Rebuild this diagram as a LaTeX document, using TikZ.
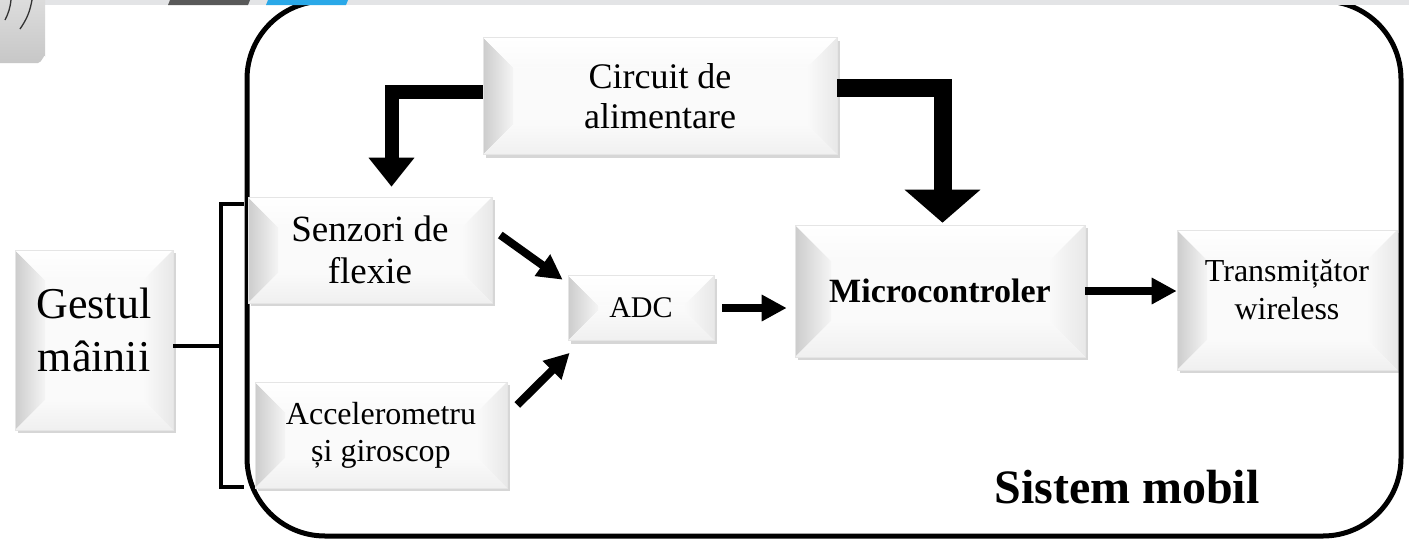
\documentclass[tikz,border=0pt]{standalone}
\usepackage{fontspec}
\setmainfont{Liberation Serif}
\usetikzlibrary{arrows.meta,shadows,calc}
\definecolor{stripgray}{HTML}{E3E4E6}
\definecolor{darkseg}{HTML}{595959}
\definecolor{blueseg}{HTML}{2AA8E8}
\def\bv{30}
\tikzset{
  bev/.code={\def\bv{#1}},
  bevbox/.style={inner sep=0pt, align=center, fill=white, draw=black!10, line width=0.6pt,
    drop shadow={shadow xshift=2.5pt, shadow yshift=-3pt, fill=black, opacity=0.16},
    path picture={
      \coordinate (@sw) at (path picture bounding box.south west);
      \coordinate (@ne) at (path picture bounding box.north east);
      \coordinate (@nw) at (@sw |- @ne);
      \coordinate (@se) at (@ne |- @sw);
      \coordinate (@isw) at ([shift={(\bv pt,\bv pt)}]@sw);
      \coordinate (@ine) at ([shift={(-\bv pt,-\bv pt)}]@ne);
      \coordinate (@inw) at ([shift={(\bv pt,-\bv pt)}]@nw);
      \coordinate (@ise) at ([shift={(-\bv pt,\bv pt)}]@se);
      \fill[black!2] (@isw) rectangle (@ine);
      \shade[left color=black!20, right color=black!4] (@sw) -- (@nw) -- (@inw) -- (@isw) -- cycle;
      \shade[top color=white, bottom color=black!2] (@nw) -- (@ne) -- (@ine) -- (@inw) -- cycle;
      \shade[left color=black!2, right color=black!9] (@ne) -- (@se) -- (@ise) -- (@ine) -- cycle;
      \shade[top color=black!2, bottom color=black!6] (@sw) -- (@se) -- (@ise) -- (@isw) -- cycle;
    }},
  arr/.style={line width=8pt, -{Triangle[length=25pt,width=25pt]}},
  bracket/.style={line width=4pt},
  frame/.style={line width=5pt, rounded corners=78pt}
}
\begin{document}
\begin{tikzpicture}[x=1pt,y=-1pt]
\useasboundingbox (0,0) rectangle (1409,541);
\fill[white] (0,0) rectangle (1409,541);

% system frame
\draw[frame] (247,1) rectangle (1401,536);

% top strip and corner artifact
\fill[stripgray] (0,0) rectangle (1409,5);
\fill[darkseg] (170,0) -- (250,0) -- (248,5) -- (168,5) -- cycle;
\fill[blueseg] (268,0) -- (348,0) -- (346,5) -- (266,5) -- cycle;
\shade[top color=black!13, bottom color=black!22] (0,-5) -- (45,-5) -- (45,56) to[out=90,in=0] (38,63) -- (0,63) -- cycle;
\draw[black!80, line width=1.3pt] (11,0) to[bend left=10] (5,20);
\draw[black!80, line width=1.3pt] (32,0) to[bend left=12] (20,29);

% boxes
\node[bevbox, minimum width=158pt, minimum height=180pt, font=\fontsize{44}{53}\selectfont] (gest) at (94,340) {Gestul\\mâinii\\[-33pt]\mbox{}};
\node[bevbox, minimum width=244pt, minimum height=106pt, font=\fontsize{37}{42}\selectfont] (senz) at (370,250) {Senzori de\\flexie};
\node[bevbox, minimum width=252pt, minimum height=106pt, font=\fontsize{32}{37}\selectfont] (accel) at (381,435) {Accelerometru\\și giroscop};
\node[bevbox, minimum width=354pt, minimum height=117pt, font=\fontsize{36}{40}\selectfont] (circ) at (660,96) {Circuit de\\alimentare};
\node[bevbox, bev=30, minimum width=146pt, minimum height=65pt, font=\fontsize{30}{34}\selectfont] (adc) at (641,308) {ADC};
\node[bevbox, bev=36, minimum width=290pt, minimum height=132pt, font=\fontsize{34}{38}\selectfont\bfseries] (micro) at (940,291) {Microcontroler};
\node[bevbox, minimum width=220pt, minimum height=140pt, font=\fontsize{32}{38}\selectfont] (trans) at (1287,300) {Transmițător\\wireless\\[-18pt]\mbox{}};

\node[font=\fontsize{48}{52}\selectfont\bfseries, inner sep=0pt] (sist) at (1127,487) {Sistem mobil};

% bracket
\coordinate (bj) at (221,346);
\coordinate (bt) at (221,204);
\coordinate (bb) at (221,487);
\coordinate (btr) at (244,204);
\coordinate (bbr) at (244,487);
\draw[bracket] (btr) -- (bt) -- (bb) -- (bbr);
\draw[bracket] ([yshift=-6pt]gest.east) -- (bj);

% power arrows
\draw[line width=14pt, -{Triangle[length=29pt,width=44pt]}] ([yshift=4pt]circ.west) -| ([xshift=21.5pt,yshift=10pt]senz.north);
\draw[line width=18pt, -{Triangle[length=33pt,width=74pt]}] ([yshift=8pt]circ.east) -| ([xshift=2.5pt,yshift=2pt]micro.north);

% signal arrows
\draw[arr] ([xshift=8pt,yshift=15pt]senz.east) -- ([xshift=-5pt,yshift=-4.5pt]adc.north west);
\draw[arr] ([xshift=10pt,yshift=30pt]accel.east) -- ([xshift=2pt,yshift=-12pt]adc.south west);
\draw[arr] ([xshift=8pt]adc.east) -- ([xshift=-8pt]adc.east -| micro.west);
\draw[arr] (micro.east) -- (micro.east -| trans.west);
\end{tikzpicture}
\end{document}
